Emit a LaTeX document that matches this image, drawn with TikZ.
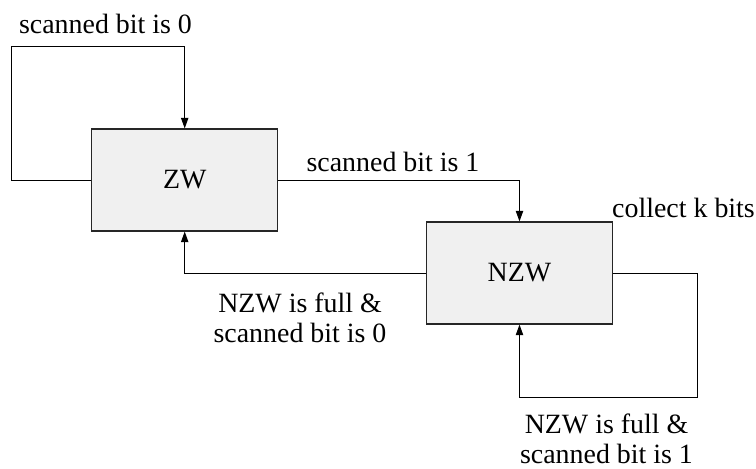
\documentclass[tikz,border=0pt]{standalone}
\usepackage{fontspec}
\setmainfont{Liberation Serif}
\usetikzlibrary{arrows.meta}
\begin{document}
\begin{tikzpicture}[x=0.5pt,y=-0.5pt,
  font=\fontsize{13.95}{15}\selectfont,
  statebox/.style={draw=black!85,line width=0.6pt,fill=black!6,minimum width=93pt,minimum height=51pt,inner sep=0pt},
  lbl/.style={inner sep=0pt,anchor=base},
  mlbl/.style={inner sep=0pt,align=center,anchor=north},
  conn/.style={line width=0.5pt,-{Triangle[length=5.3pt,width=3.7pt]}}]
\useasboundingbox (0,0) rectangle (756,468);
\node[statebox] (zw) at (184.7,180) {ZW};
\node[statebox] (nzw) at (519.5,273) {NZW};
\coordinate (c1) at (11.7,180);
\coordinate (c2) at (11.7,46);
\coordinate (c3) at (184.7,46);
\coordinate (c4) at (519.5,180);
\coordinate (c5) at (184.7,273);
\coordinate (c6) at (697,273);
\coordinate (c7) at (697,397);
\coordinate (c8) at (519.5,397);
\draw[conn] (zw.west) -- (c1) -- (c2) -- (c3) -- (zw.north);
\draw[conn] (zw.east) -- (c4) -- (nzw.north);
\draw[conn] (nzw.west) -- (c5) -- (zw.south);
\draw[conn] (nzw.east) -- (c6) -- (c7) -- (c8) -- (nzw.south);
\node[lbl] (l0) at (105.5,33) {scanned bit is 0};
\node[lbl] (l1) at (393,171) {scanned bit is 1};
\node[lbl] (lk) at (683.5,217) {collect k bits};
\node[mlbl] (lf0) at (300,292) {NZW is full \&\\scanned bit is 0};
\node[mlbl] (lf1) at (606.5,413) {NZW is full \&\\scanned bit is 1};
\end{tikzpicture}
\end{document}
